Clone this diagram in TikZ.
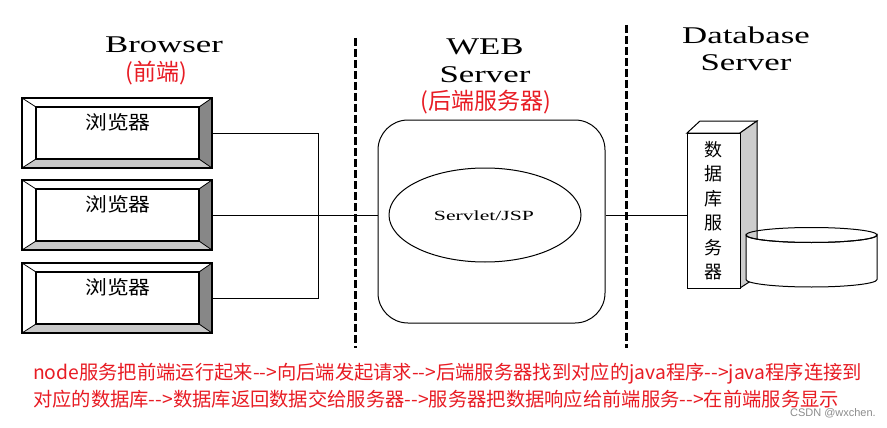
\documentclass[tikz,border=0pt]{standalone}
\usepackage{fontspec}
\usetikzlibrary{shapes.geometric}
\setmainfont{Liberation Serif}
\newfontfamily\cjk{Noto Sans CJK SC}
\newfontfamily\wmfont{Liberation Sans}
\definecolor{redtxt}{RGB}{232,28,36}
\definecolor{bevdark}{RGB}{135,135,135}
\definecolor{bevlight}{RGB}{200,200,200}
\definecolor{sidegray}{RGB}{205,205,205}
\tikzset{
  heading/.style={font=\fontsize{24}{26}\selectfont, xscale=1.45, inner sep=0pt},
  redhead/.style={font=\cjk\fontsize{23}{25}\selectfont, text=redtxt, inner sep=0pt},
  bouter/.style={draw=black, line width=1.8pt, minimum width=190pt, minimum height=70pt, inner sep=0pt},
  btext/.style={font=\cjk\fontsize{19}{21}\selectfont, xscale=1.15, inner sep=0pt},
  wire/.style={line width=0.9pt},
  divider/.style={line width=3pt, dash pattern=on 8pt off 3pt},
  note/.style={font=\cjk\fontsize{19.3}{22}\selectfont, text=redtxt, anchor=west, inner sep=0pt},
}
\begin{document}
\begin{tikzpicture}[x=1pt,y=-1pt]
\useasboundingbox (0,0) rectangle (887,428);
\fill[white] (0,0) rectangle (887,428);

% headings
\node[heading] (hbrowser) at (164,45) {Browser};
\node[redhead] (hfront) at (156,73) {(前端)};
\node[heading] (hweb) at (485,47) {WEB};
\node[heading] (hserver) at (485,75) {Server};
\node[redhead] (hback) at (486,102) {(后端服务器)};
\node[heading] (hdb) at (746,35) {Database};
\node[heading] (hdbs) at (746,63) {Server};

% divider lines
\draw[divider] (355,38) -- (355,348);
\draw[divider] (626,25) -- (626,348);

% browser boxes
\foreach \i/\y in {1/98, 2/180, 3/263} {
  \fill[white] (22,\y) -- (212,\y) -- (199,\y+9) -- (36,\y+9) -- cycle;
  \fill[white] (22,\y) -- (36,\y+9) -- (36,\y+61) -- (22,\y+70) -- cycle;
  \fill[bevdark] (212,\y) -- (212,\y+70) -- (199,\y+61) -- (199,\y+9) -- cycle;
  \fill[bevlight] (22,\y+70) -- (212,\y+70) -- (199,\y+61) -- (36,\y+61) -- cycle;
  \draw[line width=0.8pt] (22,\y) -- (36,\y+9) (212,\y) -- (199,\y+9)
        (22,\y+70) -- (36,\y+61) (212,\y+70) -- (199,\y+61);
  \draw[line width=1.2pt] (36,\y+9) rectangle (199,\y+61);
  \node[bouter] (b\i) at (117,\y+35) {};
  \node[btext] (t\i) at (118,\y+24) {浏览器};
}

% web server
\node[draw, line width=1pt, rounded corners=30pt, minimum width=227pt, minimum height=203pt] (web) at (491.5,221.5) {};
\node[draw, line width=1pt, ellipse, minimum width=192pt, minimum height=94pt, inner sep=0pt] (servlet) at (485,215) {};
\node[font=\fontsize{14}{16}\selectfont, xscale=1.55, inner sep=0pt] (stext) at (484,216) {Servlet/JSP};

% database tower
\draw[line width=1pt, fill=white] (687,133) -- (700,121) -- (757,121) -- (740,133) -- cycle;
\draw[line width=1pt, fill=sidegray] (740,133) -- (757,121) -- (757,277) -- (740,288) -- cycle;
\node[draw, line width=1pt, fill=white, minimum width=53pt, minimum height=155pt, inner sep=0pt,
      align=center, font=\cjk\fontsize{18}{24.5}\selectfont] (tower) at (713.5,210.5) {数\\据\\库\\服\\务\\器};

% cylinder
\draw[line width=1pt, fill=white] (746,235) -- (746,279.5) arc (180:0:65.5 and 7.5) -- (877,235) arc (0:180:65.5 and 7.5) -- cycle;
\draw[line width=1pt] (811.5,235) ellipse (65.5 and 7.5);

% connectors
\coordinate (jtop) at (318,133);
\coordinate (jbot) at (318,298);
\draw[wire] (b1.east) -- (jtop) -- (jbot) -- (b3.east);
\draw[wire] (b2.east) -- (b2.east -| web.west);
\draw[wire] (b2.east -| web.east) -- (b2.east -| tower.west);

% notes
\node[note] (n1) at (33,374) {node服务把前端运行起来-->向后端发起请求-->后端服务器找到对应的java程序-->java程序连接到};
\node[note] (n2) at (33,399) {对应的数据库-->数据库返回数据交给服务器-->服务器把数据响应给前端服务-->在前端服务显示};
\node[font=\wmfont\fontsize{11}{12}\selectfont, text=black!45, anchor=east, inner sep=0pt] (wm) at (876,413) {CSDN @wxchen.};
\end{tikzpicture}
\end{document}
